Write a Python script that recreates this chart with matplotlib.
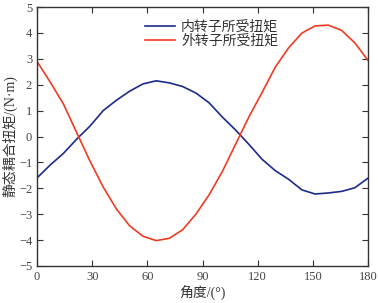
import matplotlib
matplotlib.use("Agg")
import matplotlib.pyplot as plt
import numpy as np

angles = [0, 7.2, 14.4, 21.6, 28.8, 36, 43.2, 50.4, 57.6, 64.8, 72, 79.2, 86.4,
          93.6, 100.8, 108, 115.2, 122.4, 129.6, 136.8, 144, 151.2, 158.4, 165.6, 172.8, 180]
inner = [-1.6, -1.1, -0.65, -0.1, 0.4, 1.0, 1.4, 1.75, 2.03, 2.15, 2.07, 1.93, 1.68,
         1.3, 0.75, 0.25, -0.3, -0.88, -1.32, -1.65, -2.06, -2.22, -2.18, -2.12, -1.98, -1.61]
outer = [2.9, 2.1, 1.25, 0.15, -0.95, -1.95, -2.8, -3.45, -3.85, -4.02, -3.93, -3.6, -3.0,
         -2.25, -1.35, -0.3, 0.75, 1.7, 2.68, 3.42, 3.99, 4.27, 4.3, 4.1, 3.62, 2.94]
labels = ["内转子所受扭矩", "外转子所受扭矩"]
xticks = [0, 30, 60, 90, 120, 150, 180]
yticks = [-5, -4, -3, -2, -1, 0, 1, 2, 3, 4, 5]

fam = ["Liberation Serif", "Noto Sans CJK SC"]
plt.rcParams['font.family'] = fam
plt.rcParams['axes.unicode_minus'] = False

fig = plt.figure(figsize=(3.78, 3.03), dpi=100)
ax = fig.add_axes([37/378, 1-266/303, (368-37)/378, (266-7)/303])
ax.plot(angles, inner, color="#1c2a8c", lw=1.2, label=labels[0])
ax.plot(angles, outer, color="#f03a22", lw=1.2, label=labels[1])
ax.set_xlim(0, 180)
ax.set_ylim(-5, 5)
ax.set_xticks(xticks)
ax.set_yticks(yticks)
ax.set_yticklabels(["\u2212"+str(-v) if v < 0 else str(v) for v in yticks])
ax.tick_params(direction="in", top=True, right=True, labelsize=9, length=4, width=0.8,
               colors="#333333", labelcolor="#444444")
for s in ax.spines.values():
    s.set_linewidth(1.0)
    s.set_color("#333333")
ax.set_xlabel("角度/(°)", fontsize=10, family=fam, color="#333333", labelpad=2)
ax.set_ylabel("静态耦合扭矩/(N·m)", fontsize=10, family=fam, color="#333333", labelpad=1)
leg = ax.legend(loc="upper left", bbox_to_anchor=(0.326, 0.95), frameon=False,
                prop={"family": ["Noto Sans CJK SC"], "size": 10}, handlelength=2.2,
                labelspacing=0.0, handletextpad=0.4, borderpad=0, borderaxespad=0)
for t in leg.get_texts():
    t.set_color("#333333")
fig.savefig("out.png", dpi=100)
